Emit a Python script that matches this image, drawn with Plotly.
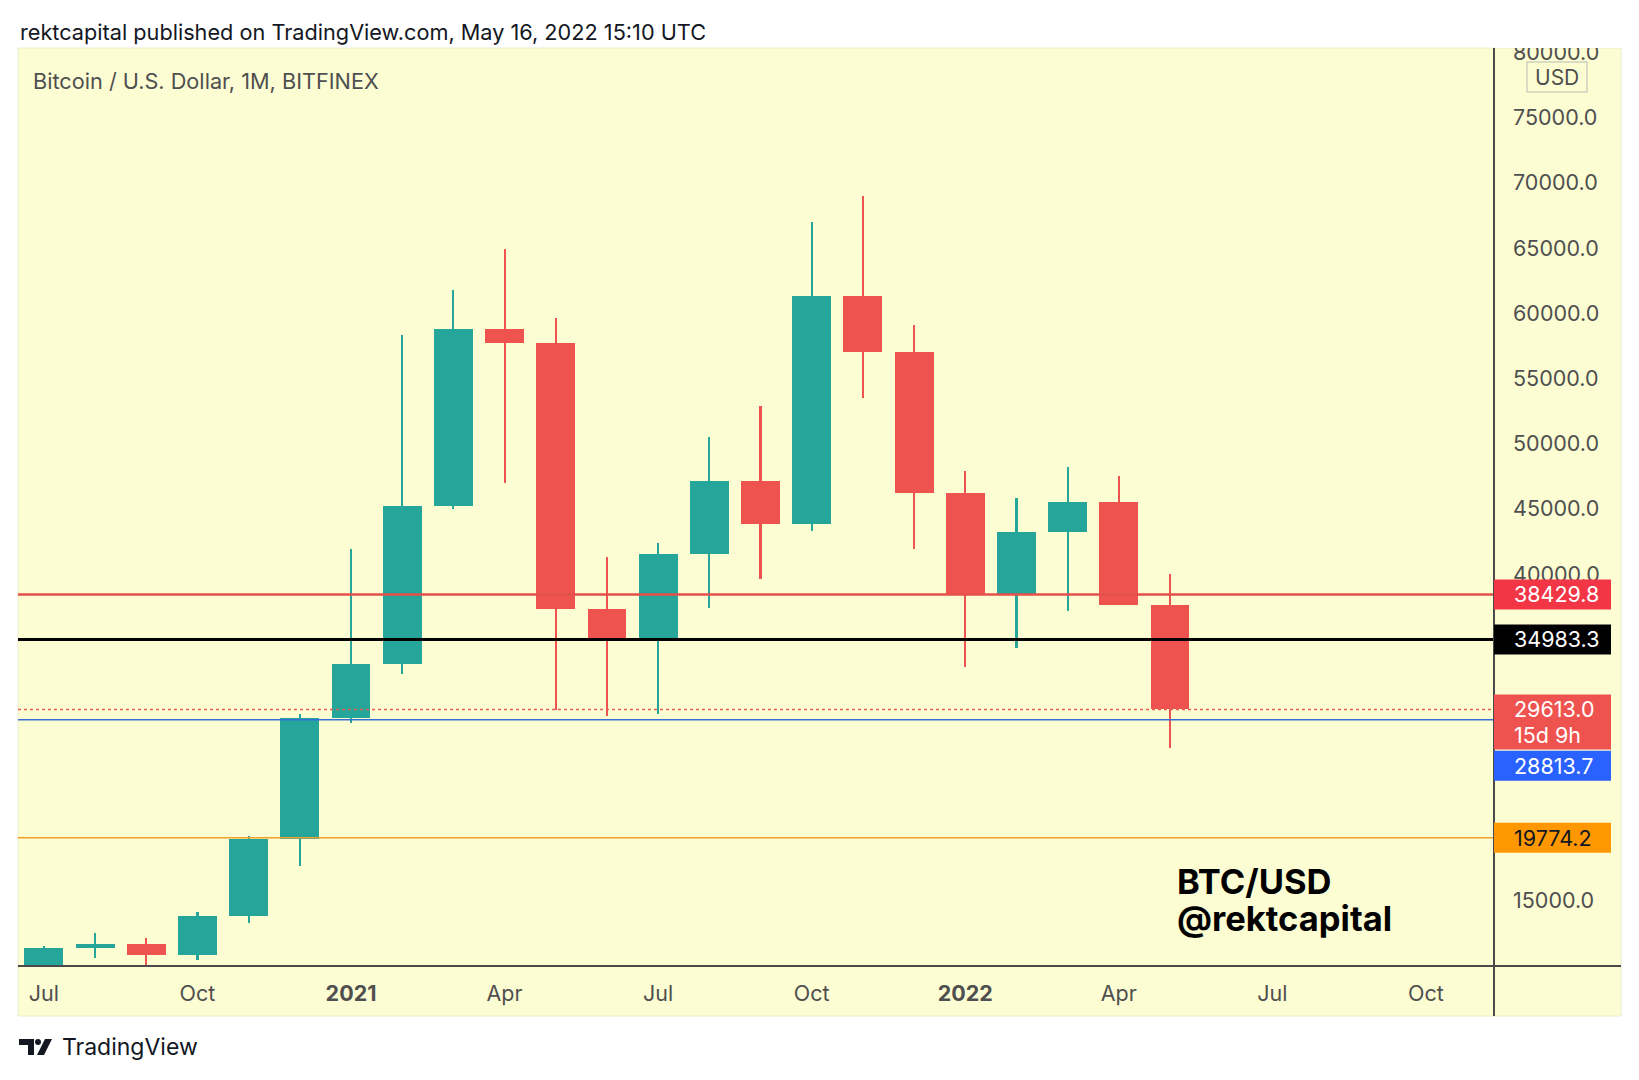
import plotly.graph_objects as go

# ---------------- data ----------------
months = ["2020-07", "2020-08", "2020-09", "2020-10", "2020-11", "2020-12",
          "2021-01", "2021-02", "2021-03", "2021-04", "2021-05", "2021-06",
          "2021-07", "2021-08", "2021-09", "2021-10", "2021-11", "2021-12",
          "2022-01", "2022-02", "2022-03", "2022-04", "2022-05"]
open_ = [9135, 11340, 11660, 10780, 13800, 19700, 28990, 33100, 45200, 58800, 57700, 37300,
         35040, 41500, 47100, 43800, 61300, 57000, 46200, 38500, 43200, 45500, 37650]
high = [11444, 12470, 12070, 14100, 19900, 29300, 41950, 58350, 61800, 64900, 59600, 41300,
        42400, 50500, 52900, 66999, 69000, 59100, 47900, 45800, 48200, 47500, 40000]
low = [8985, 10540, 9850, 10400, 13250, 17600, 28600, 32300, 45000, 47000, 29600, 29100,
       29300, 37400, 39600, 43300, 53500, 41900, 32900, 34300, 37200, 37600, 26650]
close = [11340, 11660, 10780, 13800, 19700, 28990, 33100, 45200, 58800, 57700, 37300, 35040,
         41500, 47100, 43800, 61300, 57000, 46200, 38500, 43200, 45500, 37650, 29613]

x_tick_pos = [0, 3, 6, 9, 12, 15, 18, 21, 24, 27]
x_tick_text = ["Jul", "Oct", "<b>2021</b>", "Apr", "Jul", "Oct", "<b>2022</b>", "Apr", "Jul", "Oct"]
y_tick_vals = [15000, 40000, 45000, 50000, 55000, 60000, 65000, 70000, 75000, 80000]

level_red = 38429.8
level_black = 34983.3
level_last = 29613.0
level_blue = 28813.7
level_orange = 19774.2
countdown = "15d 9h"

# ---------------- styles ----------------
GREEN = "#26A69A"
RED = "#EF5350"
BG = "#FDFDD3"
FONT = "Inter, Roboto, sans-serif"
OFF = 8                      # default body margin of the html page
W, H = 1623, 1064            # figure size (page is 1639x1080)
ML, MT = 18 - OFF, 48 - OFF
PLOT_R, PLOT_B = 1494 - OFF, 966 - OFF
MR, MB = W - PLOT_R, H - PLOT_B
PW, PH = PLOT_R - ML, PLOT_B - MT
Y0, Y1 = 9939, 80337
DPP = (Y1 - Y0) / PH         # data units per pixel


def px(x):   # page x -> paper
    return (x - OFF - ML) / PW


def py(y):   # page y -> paper
    return (PLOT_B - (y - OFF)) / PH


xs = list(range(len(months)))
up = [i for i in xs if close[i] >= open_[i]]
dn = [i for i in xs if close[i] < open_[i]]

fig = go.Figure()
for idx, col in ((up, GREEN), (dn, RED)):
    fig.add_trace(go.Bar(
        x=[xs[i] for i in idx], base=[low[i] for i in idx],
        y=[high[i] - low[i] for i in idx], width=0.042,
        marker=dict(color=col, line=dict(width=0)), hoverinfo="skip", showlegend=False))
for idx, col in ((up, GREEN), (dn, RED)):
    fig.add_trace(go.Bar(
        x=[xs[i] for i in idx], base=[min(open_[i], close[i]) for i in idx],
        y=[abs(close[i] - open_[i]) for i in idx], width=0.76,
        marker=dict(color=col, line=dict(width=0)), hoverinfo="skip", showlegend=False))

shapes = []
# panel background
shapes.append(dict(type="rect", xref="paper", yref="paper", x0=px(18), x1=px(1621),
                   y0=py(1016), y1=py(48), fillcolor=BG, line=dict(color="#ECECD0", width=1),
                   layer="below"))
# horizontal levels
for val, col, w, dash in ((level_red, "#E5504A", 2.5, "solid"),
                          (level_black, "#000000", 3, "solid"),
                          (level_blue, "#3A6FD8", 1.5, "solid"),
                          (level_orange, "#F2A02A", 1.5, "solid"),
                          (level_last, "#E5604F", 1.5, "dot")):
    shapes.append(dict(type="line", xref="paper", yref="y", x0=0, x1=1, y0=val, y1=val,
                       line=dict(color=col, width=w, dash=dash), layer="above"))
# white strip cutting the top label like the panel edge
shapes.append(dict(type="rect", xref="paper", yref="paper", x0=px(1495), x1=px(1625),
                   y0=py(48), y1=py(20), fillcolor="#FFFFFF", line=dict(width=0), layer="above"))
# axis lines
shapes.append(dict(type="line", xref="paper", yref="paper", x0=px(18), x1=px(1621), y0=0, y1=0,
                   line=dict(color="#4A4A4A", width=2), layer="above"))
shapes.append(dict(type="line", xref="paper", yref="paper", x0=1, x1=1, y0=py(1016), y1=1,
                   line=dict(color="#4A4A4A", width=2), layer="above"))
# USD badge
shapes.append(dict(type="rect", xref="paper", yref="paper", x0=px(1527), x1=px(1587),
                   y0=py(92), y1=py(62), fillcolor=BG, line=dict(color="#CFCFC0", width=1.5),
                   layer="above"))

# price label boxes (pixel offsets from the level, converted through the y scale)
BOX_X0, BOX_X1 = px(1494), px(1611)
boxes = [(level_red, -15, 15, "#F23645"),
         (level_black, -15, 15, "#000000"),
         (level_last, -15, 40, RED),
         (level_blue, 31, 61, "#2962FF"),
         (level_orange, -15, 15, "#FF9800")]
for val, top, bot, col in boxes:
    shapes.append(dict(type="rect", xref="paper", yref="y", x0=BOX_X0, x1=BOX_X1,
                       y0=val - bot * DPP, y1=val - top * DPP, fillcolor=col,
                       line=dict(width=0), layer="above"))


# TradingView logo
def path(points):
    return "M " + " L ".join(f"{px(a):.5f},{py(b):.5f}" for a, b in points) + " Z"


shapes.append(dict(type="path", xref="paper", yref="paper",
                   path=path([(19, 1039), (34, 1039), (34, 1055), (28, 1055), (28, 1045), (19, 1045)]),
                   fillcolor="#131722", line=dict(width=0), layer="above"))
shapes.append(dict(type="circle", xref="paper", yref="paper", x0=px(35), x1=px(41),
                   y0=py(1045), y1=py(1039), fillcolor="#131722", line=dict(width=0), layer="above"))
shapes.append(dict(type="path", xref="paper", yref="paper",
                   path=path([(45, 1039), (52, 1039), (44, 1055), (37, 1055)]),
                   fillcolor="#131722", line=dict(width=0), layer="above"))

annotations = [
    dict(text="rektcapital published on TradingView.com, May 16, 2022 15:10 UTC",
         xref="paper", yref="paper", x=px(18), y=py(32), xanchor="left", yanchor="middle",
         showarrow=False, font=dict(family=FONT, size=21.7, color="#131722")),
    dict(text="Bitcoin / U.S. Dollar, 1M, BITFINEX",
         xref="paper", yref="paper", x=px(31), y=py(81), xanchor="left", yanchor="middle",
         showarrow=False, font=dict(family=FONT, size=21.7, color="#4F4F4F")),
    dict(text="USD", xref="paper", yref="paper", x=px(1557), y=py(77), xanchor="center",
         yanchor="middle", showarrow=False, font=dict(family=FONT, size=21, color="#4F4F4F")),
    dict(text="<b>BTC/USD</b>", xref="paper", yref="paper", x=px(1175),
         y=py(881), xanchor="left", yanchor="middle", showarrow=False,
         font=dict(family=FONT, size=34.5, color="#000000")),
    dict(text="<b>@rektcapital</b>", xref="paper", yref="paper", x=px(1175),
         y=py(918), xanchor="left", yanchor="middle", showarrow=False,
         font=dict(family=FONT, size=34.5, color="#000000")),
    dict(text="TradingView", xref="paper", yref="paper", x=px(60), y=py(1047),
         xanchor="left", yanchor="middle", showarrow=False,
         font=dict(family=FONT, size=23, color="#131722")),
]

TX = px(1512)
for val, shift, txt, fg in ((level_red, 0, f"{level_red:.1f}", "#FFFFFF"),
                            (level_black, 0, f"{level_black:.1f}", "#FFFFFF"),
                            (level_last, 0, f"{level_last:.1f}", "#FFFFFF"),
                            (level_last, -26, countdown, "#FFFFFF"),
                            (level_blue, -46, f"{level_blue:.1f}", "#FFFFFF"),
                            (level_orange, 0, f"{level_orange:.1f}", "#131722")):
    annotations.append(dict(text=txt, xref="paper", yref="y", x=TX, y=val, xanchor="left",
                            yanchor="middle", yshift=shift, showarrow=False,
                            font=dict(family=FONT, size=21.5, color=fg)))

fig.update_layout(
    width=W, height=H, margin=dict(l=ML, r=MR, t=MT, b=MB),
    paper_bgcolor="#FFFFFF", plot_bgcolor=BG, barmode="overlay", bargap=0,
    shapes=shapes, annotations=annotations, showlegend=False,
    xaxis=dict(range=[-0.506, 28.33], tickvals=x_tick_pos, ticktext=x_tick_text,
               showgrid=False, zeroline=False, showline=False, ticks="",
               ticklabelstandoff=12, tickfont=dict(family=FONT, size=21.5, color="#4F4F4F"),
               fixedrange=True),
    yaxis=dict(range=[Y0, Y1], side="right", tickvals=y_tick_vals,
               tickformat=".1f", showgrid=False, zeroline=False, showline=False, ticks="",
               ticklabelstandoff=18, tickfont=dict(family=FONT, size=21.5, color="#4F4F4F"),
               fixedrange=True),
)

fig.write_html("out.html")
